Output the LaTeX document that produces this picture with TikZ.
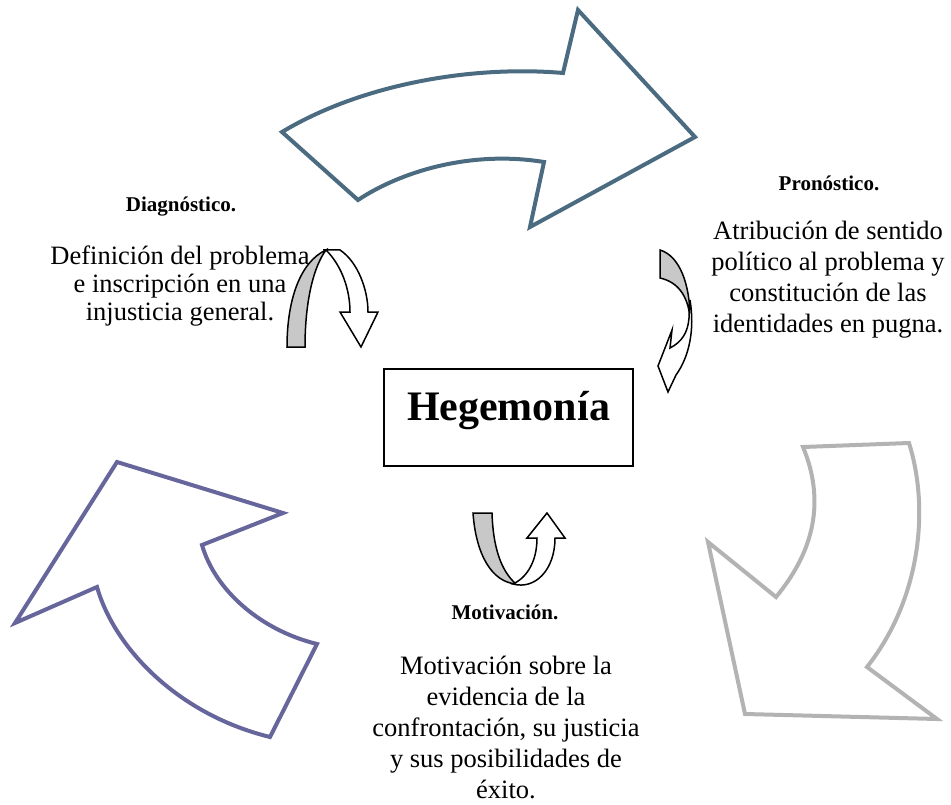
\documentclass[tikz,border=0pt]{standalone}
\usepackage{fontspec}
\setmainfont{Liberation Serif}
\usetikzlibrary{positioning}
\definecolor{arrowslate}{HTML}{4B6B80}
\definecolor{arrowviolet}{HTML}{66669C}
\definecolor{arrowgrey}{HTML}{B3B3B3}
\definecolor{bandfill}{HTML}{C8C8C8}
\tikzset{
  every node/.style={font=\rmfamily},
  bigarrow/.style={line width=4pt, fill=white},
  slatearrow/.style={bigarrow, draw=arrowslate},
  violetarrow/.style={bigarrow, draw=arrowviolet},
  greyarrow/.style={bigarrow, draw=arrowgrey},
  backband/.style={draw=black, line width=1.5pt, fill=bandfill},
  frontband/.style={draw=black, line width=1.5pt, fill=white},
  heading/.style={font=\fontsize{21}{25}\selectfont\bfseries, align=center, inner sep=0pt},
  bodytext/.style={font=\fontsize{26.5}{31}\selectfont, align=center, inner sep=0pt},
  centrebox/.style={draw=black, line width=2pt, minimum width=249pt, minimum height=97pt, font=\fontsize{42}{48}\selectfont\bfseries, text height=28pt, text depth=23pt},
}
\begin{document}
\begin{tikzpicture}[x=1pt, y=-1pt]
\useasboundingbox (0,0) rectangle (951,805);
\draw[slatearrow] (282,132) .. controls (360,85) and (470,65) .. (563,73) -- (578,10) -- (695,137) -- (530,227) -- (544,162) .. controls (470,150) and (400,172) .. (358,200) -- cycle;
\draw[violetarrow] (117,462) -- (283,513) -- (202,545) .. controls (215,590) and (260,630) .. (317,644) -- (270,737) .. controls (180,715) and (115,650) .. (97,587) -- (15,623) -- cycle;
\draw[greyarrow] (803,447) -- (909,443) .. controls (930,510) and (920,600) .. (867,667) -- (937,719) -- (745,714) -- (708,542) -- (776,597) .. controls (815,550) and (825,500) .. (803,447) -- cycle;
\node[centrebox] (hegemonia) at (508.5,417.5) {Hegemonía};
\node[heading] (diagTitle) at (181,207) {Diagnóstico.};
\node[bodytext, font=\fontsize{26.5}{28}\selectfont] (diagText) at (180,286) {Definición del problema\\e inscripción en una\\injusticia general.};
\node[heading] (pronTitle) at (829,183) {Pronóstico.};
\node[bodytext] (pronText) at (828,280) {Atribución de sentido\\político al problema y\\constitución de las\\identidades en pugna.};
\node[heading] (motTitle) at (505,612) {Motivación.};
\node[bodytext] (motText) at (506,727) {Motivación sobre la\\evidencia de la\\confrontación, su justicia\\y sus posibilidades de\\éxito.};
\draw[backband] (287,347) .. controls (287,300) and (300,262) .. (326,250) .. controls (314,266) and (305,300) .. (305,347) -- cycle;
\draw[frontband] (323,250) -- (340,250) .. controls (358,262) and (368,290) .. (368,312) -- (378,312) -- (361,347) -- (340,312) -- (350,312) .. controls (350,290) and (342,266) .. (326,250) -- cycle;
\draw[backband] (660,250) .. controls (680,256) and (690,285) .. (690,318) .. controls (688,296) and (678,282) .. (660,278) -- cycle;
\draw[frontband] (689,318) .. controls (688,332) and (682,342) .. (670,348) -- (672,330) -- (658,366) -- (668,392) -- (676,375) .. controls (689,357) and (695,330) .. (690,300) -- cycle;
\draw[backband] (473,513) -- (492,513) .. controls (493,545) and (500,570) .. (516,584) .. controls (492,582) and (476,555) .. (473,513) -- cycle;
\draw[frontband] (513,584) .. controls (535,590) and (555,570) .. (555,538) -- (565,538) -- (547,513) -- (527,538) -- (537,538) .. controls (537,560) and (528,577) .. (513,584) -- cycle;
\end{tikzpicture}
\end{document}
